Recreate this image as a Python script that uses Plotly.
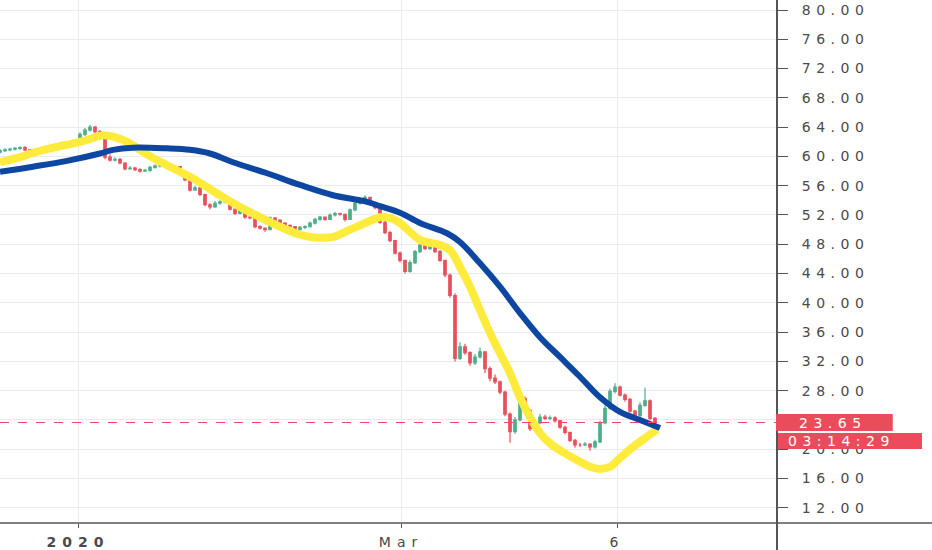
import plotly.graph_objects as go

# ----------------------------------------------------------------------
# candle data, one bar per index
closes = [60.8, 60.9, 61.0, 61.1, 61.2, 60.9, 60.5, 60.7, 60.9, 61.2,
          61.3, 61.5, 61.7, 61.8, 61.7, 61.8, 63.0, 63.6, 64.0, 63.4,
          62.6, 59.9, 59.5, 59.6, 59.1, 58.3, 58.4, 58.2, 58.0, 58.1,
          58.5, 58.7, 58.8, 58.9, 58.5, 58.6, 57.9, 56.8, 55.4, 55.7,
          54.8, 53.4, 53.1, 53.6, 53.8, 54.0, 52.8, 52.2, 52.6, 51.7,
          51.6, 50.4, 50.2, 50.0, 51.6, 51.3, 50.9, 50.6, 50.4, 50.0,
          50.3, 50.4, 50.9, 51.4, 51.7, 51.4, 52.0, 52.2, 52.1, 51.4,
          52.7, 53.6, 54.0, 54.4, 53.6, 53.0, 51.0, 49.6, 48.5, 46.8,
          45.8, 44.3, 45.5, 47.0, 47.9, 47.4, 47.8, 47.0, 45.8, 43.8,
          41.0, 32.4, 34.0, 33.2, 31.8, 32.6, 33.3, 31.0, 29.7, 29.2,
          27.8, 24.8, 22.4, 24.0, 26.9, 25.3, 22.8, 23.6, 24.4, 24.2,
          24.3, 23.9, 23.0, 22.3, 21.2, 20.6, 20.6, 20.7, 20.3, 21.0,
          23.6, 25.6, 27.9, 28.5, 27.4, 26.8, 25.2, 24.6, 26.0, 26.6,
          24.2, 23.65]

opens = [60.6, 60.8, 60.9, 61.0, 61.1, 61.2, 60.9, 60.5, 60.7, 60.9,
         61.2, 61.3, 61.5, 61.7, 61.8, 61.7, 61.8, 63.0, 63.6, 64.0,
         63.4, 62.6, 59.9, 59.5, 59.6, 59.1, 58.3, 58.4, 58.2, 58.0,
         58.1, 58.5, 58.7, 58.8, 58.9, 58.5, 58.6, 57.9, 56.8, 55.4,
         55.7, 54.8, 53.4, 53.1, 53.6, 53.8, 54.0, 52.8, 52.2, 52.6,
         51.7, 51.6, 50.4, 50.2, 50.0, 51.6, 51.3, 50.9, 50.6, 50.4,
         50.0, 50.3, 50.4, 50.9, 51.4, 51.7, 51.4, 52.0, 52.2, 52.1,
         51.4, 52.7, 53.6, 54.0, 54.4, 53.6, 53.0, 51.0, 49.6, 48.5,
         46.8, 45.8, 44.3, 45.5, 47.0, 47.9, 47.4, 47.8, 47.0, 45.8,
         43.8, 41.0, 32.4, 34.0, 33.2, 31.8, 32.6, 33.3, 31.0, 29.7,
         29.2, 27.8, 24.8, 22.4, 24.0, 26.9, 25.3, 22.8, 23.6, 24.4,
         24.2, 24.3, 23.9, 23.0, 22.3, 21.2, 20.6, 20.6, 20.7, 20.3,
         21.0, 23.6, 25.6, 27.9, 28.5, 27.4, 26.8, 25.2, 24.6, 26.0,
         26.6, 24.2]

highs = [61.0, 61.1, 61.2, 61.3, 61.4, 61.4, 61.0, 60.9, 61.1, 61.4,
         61.5, 61.7, 61.9, 62.0, 62.0, 62.1, 63.3, 63.9, 64.3, 64.2,
         63.6, 62.7, 60.3, 59.9, 59.8, 59.2, 58.7, 58.6, 58.4, 58.3,
         58.7, 58.9, 59.0, 59.1, 59.0, 58.8, 58.7, 58.0, 56.9, 56.0,
         55.8, 54.9, 53.6, 53.9, 54.0, 54.3, 54.1, 52.9, 52.9, 52.7,
         51.9, 51.7, 50.6, 50.3, 51.8, 51.7, 51.4, 51.0, 50.7, 50.5,
         50.5, 50.6, 51.1, 51.6, 51.9, 51.8, 52.2, 52.4, 52.3, 52.2,
         52.9, 53.8, 54.2, 54.7, 54.5, 53.7, 53.1, 51.2, 49.8, 48.6,
         47.0, 45.9, 45.8, 47.2, 48.2, 48.0, 48.1, 47.9, 47.2, 45.9,
         44.0, 41.3, 34.6, 34.4, 33.4, 33.0, 33.9, 33.4, 31.3, 30.2,
         29.4, 28.0, 25.0, 24.4, 28.3, 27.2, 25.5, 24.0, 24.8, 24.7,
         24.6, 24.5, 24.0, 23.2, 22.4, 21.4, 20.9, 21.0, 20.8, 21.3,
         23.9, 26.0, 28.3, 29.0, 28.7, 27.6, 27.0, 25.4, 26.4, 28.4,
         26.8, 24.4]

lows = [60.4, 60.6, 60.7, 60.8, 60.9, 60.7, 60.3, 60.4, 60.6, 60.7,
        61.0, 61.1, 61.3, 61.5, 61.5, 61.4, 61.6, 62.8, 63.4, 63.1,
        62.3, 59.6, 59.3, 59.3, 58.9, 58.1, 58.2, 58.0, 57.8, 57.9,
        57.9, 58.3, 58.5, 58.6, 58.3, 58.3, 57.7, 56.6, 55.2, 55.3,
        54.6, 53.2, 52.8, 53.0, 53.4, 53.6, 52.6, 52.0, 52.1, 51.5,
        51.4, 50.2, 50.0, 49.7, 49.9, 51.1, 50.7, 50.4, 50.2, 49.8,
        49.9, 50.1, 50.3, 50.7, 51.2, 51.2, 51.3, 51.8, 51.9, 51.1,
        51.3, 52.5, 53.4, 53.8, 53.4, 52.8, 50.8, 49.4, 48.3, 46.6,
        45.5, 44.0, 44.1, 45.3, 46.8, 47.2, 47.2, 46.8, 45.6, 43.5,
        40.7, 32.0, 32.2, 32.9, 31.4, 31.5, 32.4, 30.4, 29.3, 28.9,
        27.5, 24.5, 20.9, 22.1, 23.8, 25.0, 22.5, 22.6, 23.4, 24.0,
        24.0, 23.6, 22.8, 22.0, 21.0, 20.2, 20.3, 20.4, 19.8, 20.1,
        20.8, 23.4, 25.4, 27.6, 27.2, 26.5, 25.0, 24.3, 24.4, 25.8,
        24.0, 23.4]

bar_index = list(range(len(closes)))

# fast (yellow) and slow (blue) averages, sampled at bar positions
fast_pos = [0, 4, 6.6, 10, 13.4, 16.6, 19.4, 20.6, 22.6, 25.4, 28, 30.6,
            33.4, 36, 38.6, 41.4, 44, 48, 52, 56, 60, 63.4, 66.6, 70, 73.4,
            76, 78, 80, 84, 88, 90, 92, 94, 96, 98, 100, 102, 104, 106,
            108, 110, 112.6, 116, 118, 120, 122, 124, 126.6, 129.4, 131.4]
fast_val = [59.2, 59.9, 60.5, 61.1, 61.6, 62.1, 62.7, 62.9, 62.7, 62.0, 60.9,
            59.8, 58.8, 57.9, 57.0, 55.8, 54.7, 53.1, 51.7, 50.4, 49.3, 48.9,
            49.0, 50.0, 51.0, 51.7, 51.6, 50.9, 48.6, 47.9, 47.2, 44.9, 42.2,
            39.0, 35.9, 33.1, 30.4, 27.1, 24.4, 22.2, 20.8, 19.6, 18.3, 17.6,
            17.3, 17.6, 18.8, 20.3, 21.7, 22.7]

slow_pos = [0, 6.6, 13.4, 20, 22.6, 26.6, 33.4, 38, 42, 46.6, 53.4, 60,
            66.6, 73.4, 76, 80, 84, 89.4, 92, 96, 100, 104, 108, 112, 116,
            120, 124, 128, 132]
slow_val = [57.9, 58.6, 59.4, 60.4, 60.9, 61.2, 61.1, 60.9, 60.4, 59.2, 57.7,
            56.1, 54.7, 53.8, 53.2, 52.3, 50.9, 49.5, 48.3, 45.4, 42.2, 38.6,
            35.3, 32.6, 29.9, 27.1, 25.1, 24.0, 22.9]

last_price = 23.65
countdown = "03:14:29"

tick_pos = [15.6, 80.2, 123.4]
tick_text = ["<b>2020</b>", "Mar", "6"]
price_ticks = list(range(12, 81, 4))
# the 24.00 label sits under the last-price tag, so it is left blank
price_text = ["" if v == 24 else f"{v:.2f}" for v in price_ticks]

# ----------------------------------------------------------------------
fig = go.Figure()

fig.add_trace(go.Scatter(x=fast_pos, y=fast_val, mode='lines',
                         line=dict(color='#ffeb3b', width=8, shape='spline', smoothing=1.0),
                         hoverinfo='skip'))
fig.add_trace(go.Scatter(x=slow_pos, y=slow_val, mode='lines',
                         line=dict(color='#0d47a1', width=6, shape='spline', smoothing=1.0),
                         hoverinfo='skip'))
fig.add_trace(go.Candlestick(x=bar_index, open=opens, high=highs, low=lows, close=closes,
                             increasing=dict(line=dict(color='#4caf8a', width=1.2), fillcolor='#4caf8a'),
                             decreasing=dict(line=dict(color='#e8505b', width=1.2), fillcolor='#e8505b'),
                             whiskerwidth=0))

axis_col = '#555555'
grid_col = '#e8ebef'
red = '#ea4c5b'

fig.add_hline(y=last_price, line=dict(color=red, width=1, dash='dash'))

shapes = [
    # right price scale border, running to the window edge
    dict(type='line', xref='paper', yref='paper', x0=1, x1=1, y0=-0.06, y1=1,
         line=dict(color=axis_col, width=2)),
    # time scale border
    dict(type='line', xref='paper', yref='paper', x0=0, x1=1.2, y0=0, y1=0,
         line=dict(color=axis_col, width=1.5)),
    # last price and countdown labels
    dict(type='rect', xref='paper', yref='y', x0=0.9987, x1=1.149, y0=22.49, y1=24.81,
         fillcolor=red, line=dict(width=0), layer='above'),
    dict(type='rect', xref='paper', yref='y', x0=1.0013, x1=1.1866, y0=20.03, y1=22.21,
         fillcolor=red, line=dict(width=0), layer='above'),
]
for s in shapes:
    fig.add_shape(**s)

fig.add_annotation(x=1.026, y=last_price, xref='paper', yref='y', text=f"{last_price:.2f}",
                   xanchor='left', align='left', showarrow=False,
                   font=dict(color='white', size=14, family='DejaVu Sans'))
fig.add_annotation(x=1.012, y=21.12, xref='paper', yref='y', text=countdown,
                   xanchor='left', align='left', showarrow=False,
                   font=dict(color='white', size=14, family='DejaVu Sans'))

fig.update_layout(
    width=932, height=550,
    margin=dict(l=0, r=155, t=0, b=27),
    paper_bgcolor='white', plot_bgcolor='white',
    showlegend=False,
    font=dict(family='DejaVu Sans', color='#4a4a4a', size=14),
    xaxis=dict(range=[0, 155.4], tickmode='array', tickvals=tick_pos, ticktext=tick_text,
               showgrid=True, gridcolor=grid_col, gridwidth=1, zeroline=False,
               ticks='outside', ticklen=4, tickcolor=axis_col, showline=False,
               rangeslider=dict(visible=False), tickfont=dict(size=14),
               ticklabelstandoff=2),
    yaxis=dict(range=[9.92, 81.37], side='right', tickmode='array', tickvals=price_ticks,
               ticktext=price_text, showgrid=True, gridcolor=grid_col, zeroline=False,
               ticks='outside', ticklen=10, tickcolor=axis_col, showline=False,
               tickfont=dict(size=14), ticklabelstandoff=11),
)

# no page margin, and TradingView-like wide spacing of the scale labels
post_script = """
document.body.style.margin = '0';
var st = document.createElement('style');
st.innerHTML = '.ytick text, .annotation-text {letter-spacing: 5.5px;} .xtick text {letter-spacing: 6px;}';
document.head.appendChild(st);
"""

fig.write_html("out.html", post_script=post_script, config=dict(displayModeBar=False))
